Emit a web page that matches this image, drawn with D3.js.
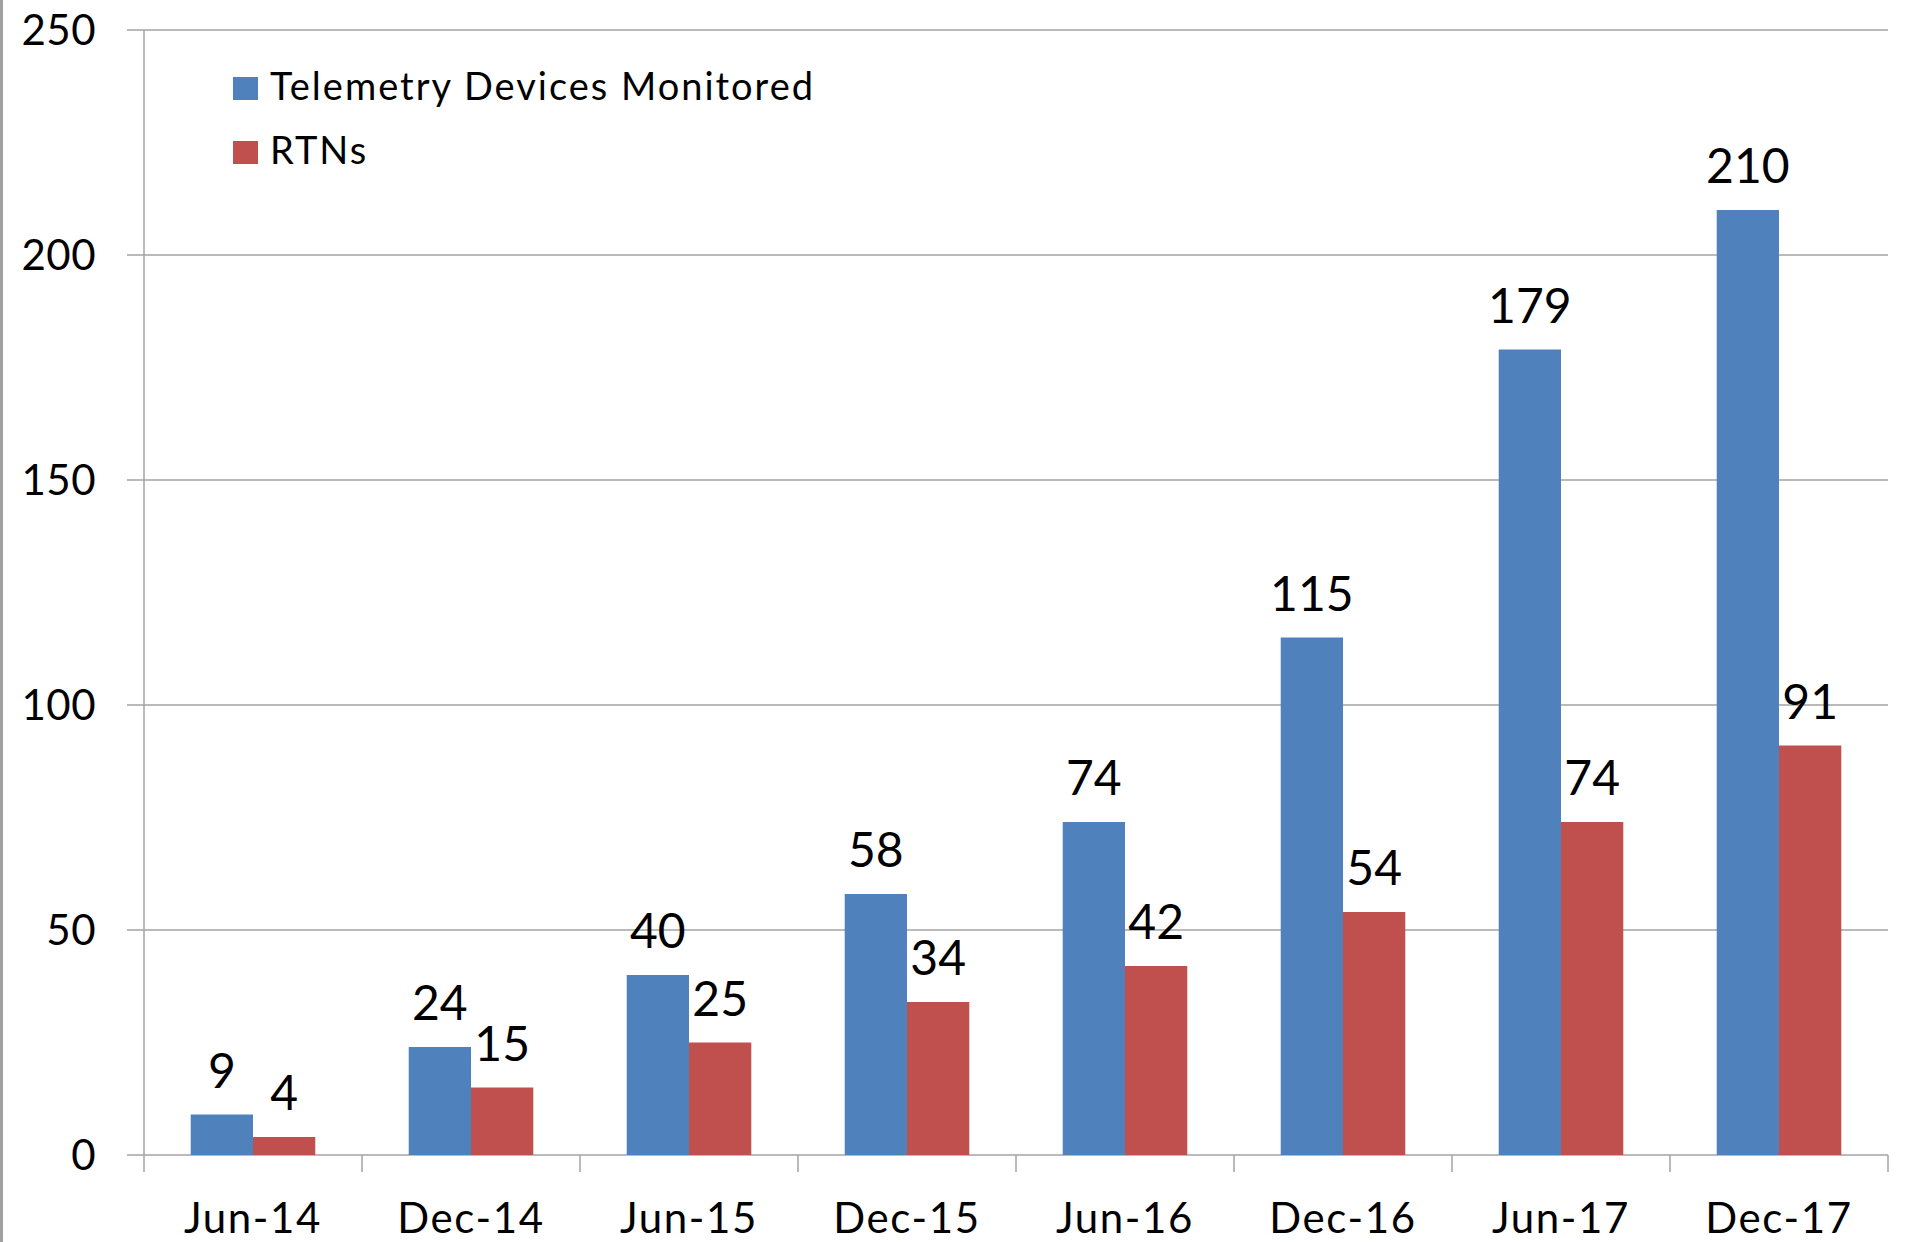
<!DOCTYPE html>
<html>
<head>
<meta charset="utf-8">
<script src="https://cdn.jsdelivr.net/npm/d3@7"></script>
<style>
  body { margin: 0; background: #fff; }
  text { font-family: Lato, "Open Sans", sans-serif; fill: #000; }
</style>
</head>
<body>
<svg id="chart"></svg>
<script>
  // chart values
  const categories = ["Jun-14", "Dec-14", "Jun-15", "Dec-15", "Jun-16", "Dec-16", "Jun-17", "Dec-17"];
  const seriesNames = ["Telemetry Devices Monitored", "RTNs"];
  const devices = [9, 24, 40, 58, 74, 115, 179, 210];
  const rtns = [4, 15, 25, 34, 42, 54, 74, 91];
  const yTicks = [0, 50, 100, 150, 200, 250];
  const colors = ["#4F81BD", "#C0504D"];

  const width = 1915, height = 1242;
  const plotL = 144, plotR = 1888, plotT = 30, plotB = 1155;

  const svg = d3.select("#chart").attr("width", width).attr("height", height);

  const x = d3.scaleBand().domain(categories).range([plotL, plotR]);
  const xs = d3.scaleBand().domain(seriesNames).range([0, x.bandwidth()]).paddingOuter(0.75);
  const y = d3.scaleLinear().domain([0, 250]).range([plotB, plotT]);

  // frame edge on the left
  svg.append("line")
    .attr("x1", 1.5).attr("x2", 1.5).attr("y1", 0).attr("y2", height)
    .attr("stroke", "#a0a0a0").attr("stroke-width", 3);

  // gridlines
  svg.append("g")
    .selectAll("line")
    .data(yTicks)
    .join("line")
    .attr("x1", plotL - 17).attr("x2", plotR)
    .attr("y1", d => y(d)).attr("y2", d => y(d))
    .attr("stroke", "#a3a3a3").attr("stroke-width", 1.5);

  // y axis line
  svg.append("line")
    .attr("x1", plotL).attr("x2", plotL).attr("y1", plotT).attr("y2", plotB)
    .attr("stroke", "#a3a3a3").attr("stroke-width", 1.5);

  svg.append("g")
    .selectAll("text")
    .data(yTicks)
    .join("text")
    .attr("x", plotL - 48)
    .attr("y", d => y(d))
    .attr("dy", "0.36em")
    .attr("text-anchor", "end")
    .attr("font-size", 42)
    .attr("letter-spacing", 0.5)
    .text(d => d);

  // x axis tick marks at category boundaries
  const bounds = categories.map(c => x(c)).concat([plotR]);
  svg.append("g")
    .selectAll("line")
    .data(bounds)
    .join("line")
    .attr("x1", d => d).attr("x2", d => d)
    .attr("y1", plotB).attr("y2", plotB + 17)
    .attr("stroke", "#a3a3a3").attr("stroke-width", 1.5);

  svg.append("g")
    .selectAll("text")
    .data(categories)
    .join("text")
    .attr("x", d => x(d) + x.bandwidth() / 2)
    .attr("y", 1233)
    .attr("text-anchor", "middle")
    .attr("font-size", 42)
    .attr("letter-spacing", 1.6)
    .text(d => d);

  // bars
  const rows = categories.map((c, i) => ({cat: c, vals: [devices[i], rtns[i]]}));

  const grp = svg.append("g")
    .selectAll("g")
    .data(rows)
    .join("g")
    .attr("transform", d => `translate(${x(d.cat)},0)`);

  grp.selectAll("rect")
    .data(d => d.vals.map((v, j) => ({name: seriesNames[j], v: v, j: j})))
    .join("rect")
    .attr("x", d => xs(d.name))
    .attr("y", d => y(d.v))
    .attr("width", xs.bandwidth())
    .attr("height", d => y(0) - y(d.v))
    .attr("fill", d => colors[d.j]);

  grp.selectAll("text")
    .data(d => d.vals.map((v, j) => ({name: seriesNames[j], v: v, j: j})))
    .join("text")
    .attr("x", d => xs(d.name) + xs.bandwidth() / 2)
    .attr("y", d => y(d.v) - 27)
    .attr("text-anchor", "middle")
    .attr("font-size", 48)
    .text(d => d.v);

  // legend
  const legend = svg.append("g")
    .selectAll("g")
    .data(seriesNames)
    .join("g")
    .attr("transform", (d, i) => `translate(233,${77 + i * 64})`);

  legend.append("rect")
    .attr("width", 25).attr("height", 23)
    .attr("fill", (d, i) => colors[i]);

  legend.append("text")
    .attr("x", 37)
    .attr("y", 23)
    .attr("font-size", 38)
    .attr("letter-spacing", 2)
    .text(d => d);
</script>
</body>
</html>
